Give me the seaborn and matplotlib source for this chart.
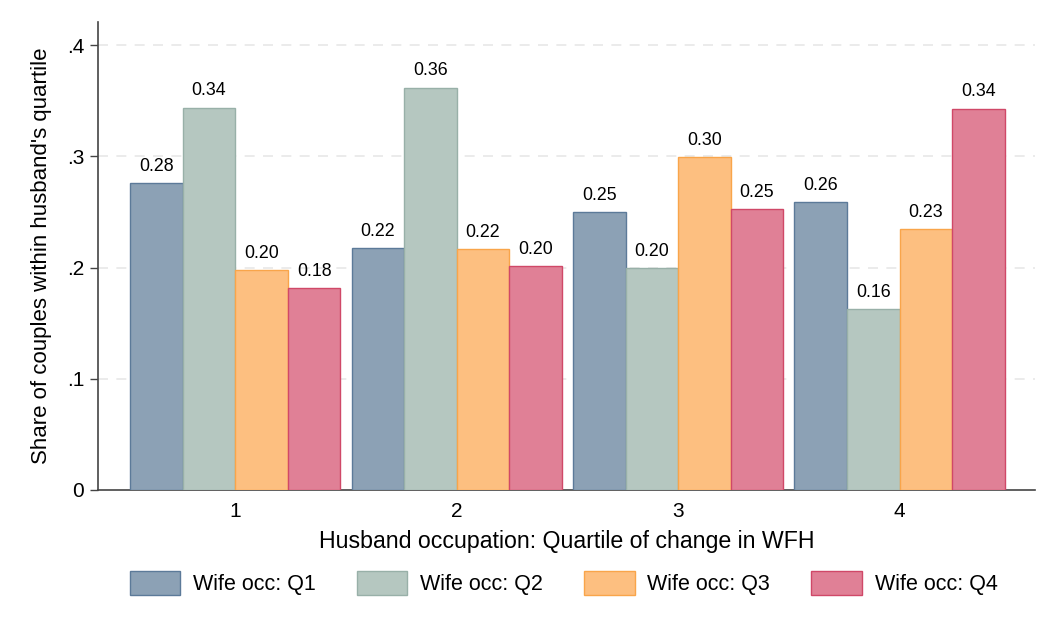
import pandas as pd
import matplotlib.pyplot as plt
import seaborn as sns

# --- DATA ---
husband_quartiles = ['1', '2', '3', '4']
wife_groups = ['Wife occ: Q1', 'Wife occ: Q2', 'Wife occ: Q3', 'Wife occ: Q4']
share_q1 = [0.276, 0.2175, 0.2499, 0.2589]
share_q2 = [0.344, 0.362, 0.1996, 0.1627]
share_q3 = [0.198, 0.2166, 0.2993, 0.2346]
share_q4 = [0.1816, 0.2013, 0.2526, 0.343]

# --- STYLE ---
FILLS = ['#8ca1b5', '#b5c7c0', '#fdbf80', '#e08096']
EDGES = ['#5c7a99', '#98b0a8', '#f9a54a', '#d04868']

sns.set_style('white')
plt.rcParams['font.family'] = ['Liberation Sans', 'DejaVu Sans']
plt.rcParams['text.color'] = 'black'
plt.rcParams['axes.labelcolor'] = 'black'
plt.rcParams['xtick.color'] = 'black'
plt.rcParams['ytick.color'] = 'black'

rows = []
for grp, vals in zip(wife_groups, [share_q1, share_q2, share_q3, share_q4]):
    for q, v in zip(husband_quartiles, vals):
        rows.append({'quartile': q, 'wife': grp, 'share': v})
df = pd.DataFrame(rows)

fig = plt.figure(figsize=(10.6, 6.36), dpi=100)
ax = fig.add_axes([0.0925, 0.2296, 0.8835, 0.7354])

sns.barplot(data=df, x='quartile', y='share', hue='wife', order=husband_quartiles,
            hue_order=wife_groups, palette=FILLS, width=0.95, gap=0,
            saturation=1, errorbar=None, ax=ax, zorder=3)

for cont, ec in zip(ax.containers, EDGES):
    for p in cont:
        p.set_edgecolor(ec)
        p.set_linewidth(1.0)
    ax.bar_label(cont, fmt='%.2f', padding=6, fontsize=12.8, color='black')

ax.set_ylim(0, 0.4207)
ax.set_xlim(-0.62, 3.61)
ax.set_yticks([0, 0.1, 0.2, 0.3, 0.4])
ax.set_yticklabels(['0', '.1', '.2', '.3', '.4'], fontsize=15)
ax.tick_params(axis='x', labelsize=15, length=0, pad=9)
ax.tick_params(axis='y', length=6, width=1, color='#444444', left=True, pad=4)
for y in [0.1, 0.2, 0.3, 0.4]:
    ax.axhline(y, color='#e8e8e8', lw=1.2, ls=(0, (6, 5)), zorder=1)

ax.set_xlabel('Husband occupation: Quartile of change in WFH', fontsize=16.7, labelpad=6)
ax.set_ylabel("Share of couples within husband's quartile", fontsize=16, labelpad=11)

sns.despine(ax=ax, top=True, right=True)
for s in ['left', 'bottom']:
    ax.spines[s].set_color('#444444')
    ax.spines[s].set_linewidth(1.2)

leg = ax.legend(loc='center', bbox_to_anchor=(0.497, -0.199), ncol=4, frameon=False,
                fontsize=15.5, handlelength=2.35, handleheight=1.3, columnspacing=1.9,
                handletextpad=0.6)
for h, ec in zip(leg.get_patches(), EDGES):
    h.set_edgecolor(ec)
    h.set_linewidth(1.0)

fig.savefig('out.png', dpi=100)
